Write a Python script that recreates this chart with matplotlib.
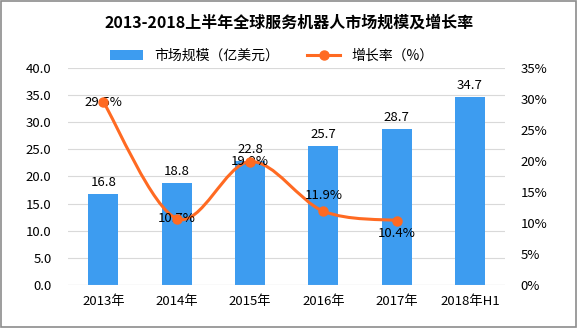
import matplotlib
matplotlib.use("Agg")
import matplotlib.pyplot as plt
from matplotlib.path import Path
from matplotlib.patches import PathPatch
import numpy as np

plt.rcParams['font.family'] = ['Noto Sans CJK SC', 'DejaVu Sans']

years = ["2013年", "2014年", "2015年", "2016年", "2017年", "2018年H1"]
market = [16.8, 18.8, 22.8, 25.7, 28.7, 34.7]
growth = [29.5, 10.7, 19.9, 11.9, 10.4]

bar_color = "#3d9cf0"
line_color = "#ff6a22"

fig = plt.figure(figsize=(5.78, 3.28), dpi=100)
ax = fig.add_axes([0.118, 0.131, 0.756, 0.662])
ax2 = ax.twinx()

x = np.arange(len(years))
ax.bar(x, market, width=0.41, color=bar_color, zorder=2, label="市场规模（亿美元）")
for xi, v in zip(x, market):
    ax.text(xi, v + 0.9, f"{v:.1f}", ha="center", va="bottom", fontsize=9.5)

ax.set_ylim(0, 40)
ax.set_yticks(np.arange(0, 40.1, 5))
ax.set_yticklabels([f"{v:.1f}" for v in np.arange(0, 40.1, 5)])
ax.set_xlim(-0.48, 5.48)
ax.set_xticks(x)
ax.set_xticklabels(years)
ax.grid(axis="y", color="#d9d9d9", linewidth=0.8, zorder=0)
ax.set_axisbelow(True)

# smoothed growth line drawn as cubic bezier segments through the points
gx = x[:len(growth)]
gy = np.array(growth, dtype=float)
verts = [(gx[0], gy[0])]
codes = [Path.MOVETO]
t = 1 / 6
for i in range(len(gx) - 1):
    p0 = (gx[i - 1], gy[i - 1]) if i > 0 else (gx[i], gy[i])
    p1 = (gx[i], gy[i])
    p2 = (gx[i + 1], gy[i + 1])
    p3 = (gx[i + 2], gy[i + 2]) if i + 2 < len(gx) else p2
    c1 = (p1[0] + (p2[0] - p0[0]) * t, p1[1] + (p2[1] - p0[1]) * t)
    c2 = (p2[0] - (p3[0] - p1[0]) * t, p2[1] - (p3[1] - p1[1]) * t)
    verts += [c1, c2, p2]
    codes += [Path.CURVE4] * 3
ax2.add_patch(PathPatch(Path(verts, codes), facecolor="none", edgecolor=line_color,
                        linewidth=2.2, zorder=3))
ax2.plot(gx, gy, "o", color=line_color, markersize=6.5, zorder=4)
ax2.plot([], [], "-o", color=line_color, linewidth=2.2, markersize=6.5, label="增长率（%）")

offsets = [(0, 0, "center"), (0, 0, "center"), (0, 0, "center"),
           (0, 1.5, "bottom"), (0, -1.0, "top")]
for xi, v, (dx, dy, va) in zip(gx, gy, offsets):
    ax2.text(xi + dx, v + dy, f"{v:.1f}%", ha="center", va=va, fontsize=9.5, zorder=3.5)

ax2.set_ylim(0, 35)
ax2.set_yticks(np.arange(0, 35.1, 5))
ax2.set_yticklabels([f"{int(v)}%" for v in np.arange(0, 35.1, 5)])

for a in (ax, ax2):
    for s in a.spines.values():
        s.set_visible(False)
    a.tick_params(length=0, labelsize=9.5)
ax.tick_params(axis="y", pad=12)
ax2.tick_params(axis="y", pad=11)
ax.tick_params(axis="x", pad=7)
ax.axhline(0, color="#d0d0d0", linewidth=0.8)

h1, l1 = ax.get_legend_handles_labels()
h2, l2 = ax2.get_legend_handles_labels()
fig.legend(h1 + h2, l1 + l2, loc="center", bbox_to_anchor=(0.47, 0.83), ncol=2,
           frameon=False, fontsize=10, handlelength=2.4, columnspacing=2.0)

fig.text(0.5, 0.93, "2013-2018上半年全球服务机器人市场规模及增长率", ha="center", va="center",
         fontsize=11.5, fontweight="bold")

fig.patches.append(plt.Rectangle((0.002, 0.003), 0.995, 0.993, transform=fig.transFigure,
                                 fill=False, edgecolor="#8c8c8c", linewidth=1.2))

fig.savefig("out.png", dpi=100)
